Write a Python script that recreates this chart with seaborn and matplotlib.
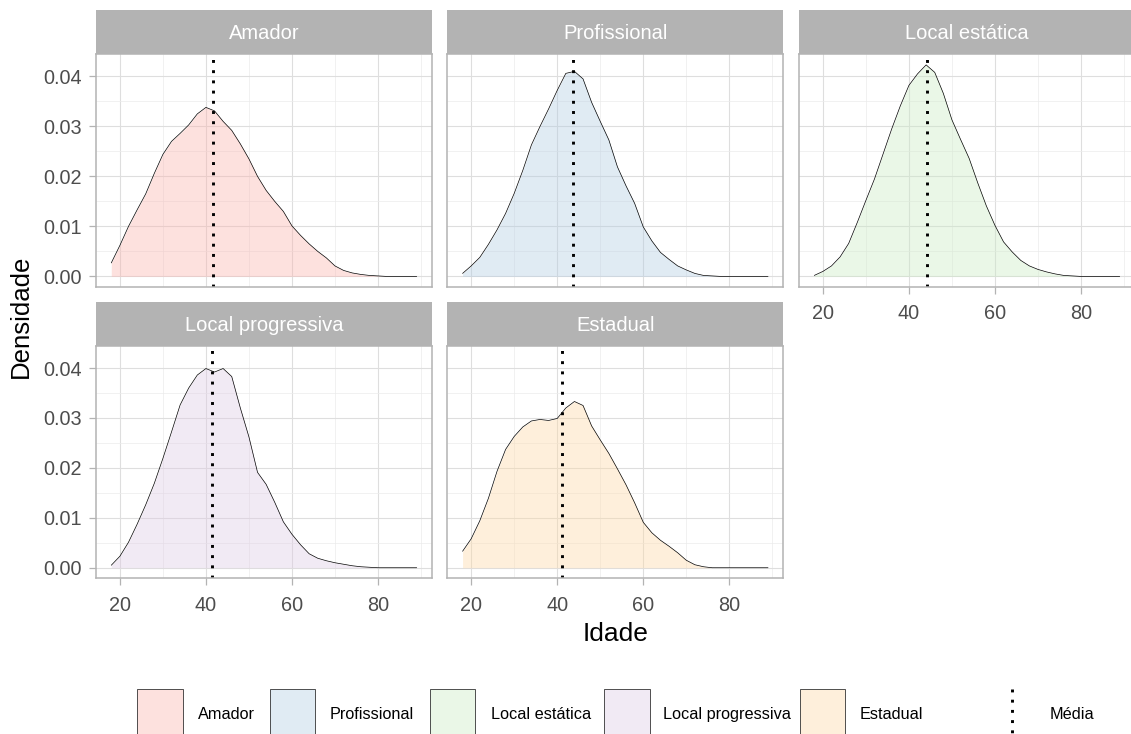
import numpy as np
import pandas as pd
import matplotlib
matplotlib.use("Agg")
import matplotlib.pyplot as plt
import matplotlib.colors as mcolors
from matplotlib.patches import Rectangle
from matplotlib.lines import Line2D
from matplotlib.ticker import FormatStrFormatter
import seaborn as sns

# ---------------------------------------------------------------- data
categorias = ["Amador", "Profissional", "Local estática", "Local progressiva", "Estadual"]

idade = [18, 20, 22, 24, 26, 28, 30, 32, 34, 36, 38, 40, 42, 44, 46, 48, 50, 52,
         54, 56, 58, 60, 62, 64, 66, 68, 70, 72, 74, 76, 78, 80, 82, 84, 86, 88, 89]

dens_amador = [0.0027, 0.0062, 0.0100, 0.0133, 0.0165, 0.0206, 0.0244, 0.0270, 0.0286,
               0.0303, 0.0325, 0.0338, 0.0331, 0.0310, 0.0292, 0.0265, 0.0235, 0.0200,
               0.0172, 0.0150, 0.0130, 0.0101, 0.0082, 0.0065, 0.0050, 0.0037, 0.0021,
               0.0012, 0.0007, 0.0004, 0.0002, 0.0001, 0.0, 0.0, 0.0, 0.0, 0.0]

dens_profissional = [0.0006, 0.0021, 0.0038, 0.0064, 0.0093, 0.0126, 0.0166, 0.0212, 0.0263,
                     0.0300, 0.0335, 0.0372, 0.0406, 0.0410, 0.0395, 0.0348, 0.0310, 0.0273,
                     0.0219, 0.0181, 0.0146, 0.0099, 0.0071, 0.0048, 0.0034, 0.0021, 0.0013,
                     0.0006, 0.0002, 0.0001, 0.0, 0.0, 0.0, 0.0, 0.0, 0.0, 0.0]

dens_local_estatica = [0.0002, 0.0010, 0.0021, 0.0039, 0.0066, 0.0108, 0.0152, 0.0195, 0.0245,
                       0.0295, 0.0341, 0.0382, 0.0405, 0.0423, 0.0408, 0.0366, 0.0313, 0.0274,
                       0.0236, 0.0187, 0.0141, 0.0102, 0.0069, 0.0049, 0.0032, 0.0021, 0.0014,
                       0.0009, 0.0005, 0.0002, 0.0001, 0.0, 0.0, 0.0, 0.0, 0.0, 0.0]

dens_local_progressiva = [0.0005, 0.0023, 0.0051, 0.0087, 0.0126, 0.0169, 0.0219, 0.0272, 0.0326,
                          0.0360, 0.0386, 0.0399, 0.0392, 0.0399, 0.0383, 0.0320, 0.0262, 0.0191,
                          0.0167, 0.0131, 0.0092, 0.0067, 0.0046, 0.0028, 0.0019, 0.0014, 0.0010,
                          0.0007, 0.0004, 0.0002, 0.0001, 0.0, 0.0, 0.0, 0.0, 0.0, 0.0]

dens_estadual = [0.0033, 0.0058, 0.0094, 0.0139, 0.0193, 0.0237, 0.0263, 0.0282, 0.0294,
                 0.0297, 0.0295, 0.0299, 0.0320, 0.0333, 0.0325, 0.0284, 0.0256, 0.0229,
                 0.0198, 0.0166, 0.0130, 0.0091, 0.0070, 0.0055, 0.0043, 0.0030, 0.0015,
                 0.0006, 0.0002, 0.0, 0.0, 0.0, 0.0, 0.0, 0.0, 0.0, 0.0]

medias = [41.7, 43.6, 44.1, 41.4, 41.0]

cores = ["#FBB4AE", "#B3CDE3", "#CCEBC5", "#DECBE4", "#FED9A6"]

densidades = [dens_amador, dens_profissional, dens_local_estatica,
              dens_local_progressiva, dens_estadual]

df = pd.concat(
    [pd.DataFrame({"categoria": c, "Idade": idade, "Densidade": d})
     for c, d in zip(categorias, densidades)],
    ignore_index=True,
)

# ---------------------------------------------------------------- style
sns.set_theme(style="white")
plt.rcParams["font.family"] = ["Liberation Sans", "DejaVu Sans"]

W, H = 1131, 734
fig = plt.figure(figsize=(W / 100, H / 100), dpi=100)

CINZA_BORDA = "#B3B3B3"
CINZA_GRADE = "#DEDEDE"
CINZA_GRADE_MENOR = "#EBEBEB"
CINZA_TEXTO = "#4D4D4D"
FONTE_TICK = 14.3

# panel boxes in pixels (left, right) / (top, bottom)
colunas = [(96.0, 432.0), (447.3, 783.3), (799.0, 1135.0)]
linhas = [(54.3, 287.0), (346.0, 578.3)]
altura_faixa = 44.3


def caixa(l, t, r, b):
    return [l / W, 1 - b / H, (r - l) / W, (b - t) / H]


x_min, x_max = min(idade), max(idade)
x_pad = 0.05 * (x_max - x_min)
y_top = max(max(d) for d in densidades)
y_pad = 0.05 * y_top

for i, (cat, cor, media) in enumerate(zip(categorias, cores, medias)):
    r_i, c_i = divmod(i, 3)
    l, r = colunas[c_i]
    t, b = linhas[r_i]
    ax = fig.add_axes(caixa(l, t, r, b))
    sub = df[df["categoria"] == cat]

    ax.fill_between(sub["Idade"], 0, sub["Densidade"],
                    color=mcolors.to_rgba(cor, 0.4), linewidth=0, zorder=2)
    sns.lineplot(data=sub, x="Idade", y="Densidade", ax=ax,
                 color="black", linewidth=0.5, zorder=3)
    ax.axvline(media, color="black", linewidth=2.1,
               linestyle=(0, (1, 2.5)), zorder=4)

    ax.set_xlim(x_min - x_pad, x_max + x_pad)
    ax.set_ylim(-y_pad, y_top + y_pad)
    ax.set_xticks([20, 40, 60, 80])
    ax.set_xticks([30, 50, 70, 90], minor=True)
    ax.set_yticks([0.0, 0.01, 0.02, 0.03, 0.04])
    ax.set_yticks([0.005, 0.015, 0.025, 0.035], minor=True)
    ax.yaxis.set_major_formatter(FormatStrFormatter("%.2f"))
    ax.set_xlabel("")
    ax.set_ylabel("")
    ax.set_facecolor("white")
    ax.set_axisbelow(True)
    ax.grid(which="major", color=CINZA_GRADE, linewidth=0.8)
    ax.grid(which="minor", color=CINZA_GRADE_MENOR, linewidth=0.5)
    for sp in ax.spines.values():
        sp.set_color(CINZA_BORDA)
        sp.set_linewidth(1.1)
        sp.set_zorder(5)

    mostra_y = c_i == 0
    mostra_x = (r_i == 1) or (c_i == 2)
    ax.tick_params(axis="y", which="major", left=mostra_y, labelleft=mostra_y,
                   length=5.3, width=0.9, color=CINZA_BORDA, pad=5.2,
                   labelsize=FONTE_TICK, labelcolor=CINZA_TEXTO)
    ax.tick_params(axis="x", which="major", bottom=mostra_x, labelbottom=mostra_x,
                   length=5.3, width=0.9, color=CINZA_BORDA, pad=7.2,
                   labelsize=FONTE_TICK, labelcolor=CINZA_TEXTO)
    ax.tick_params(which="minor", left=False, bottom=False)

    # facet strip
    sax = fig.add_axes(caixa(l, t - altura_faixa, r, t))
    sax.set_facecolor(CINZA_BORDA)
    sax.set_xticks([])
    sax.set_yticks([])
    for sp in sax.spines.values():
        sp.set_visible(False)
    sax.text(0.5, 0.47, cat, color="white", ha="center", va="center",
             fontsize=14.5, transform=sax.transAxes)

# axis titles
fig.text(21 / W, 1 - 316.3 / H, "Densidade", rotation=90, ha="center",
         va="center", fontsize=18.5, color="black")
fig.text(615.5 / W, 1 - 641 / H, "Idade", ha="center", va="baseline",
         fontsize=19, color="black")

# legend along the bottom
chave_x = [137.3, 270.0, 430.0, 604.3, 800.0]
rotulo_x = [197.7, 330.0, 491.0, 663.3, 859.3]
chave_topo, chave_alt, chave_larg = 689.3, 48.0, 45.3
base_rotulo = 719.3
for cat, cor, kx, tx in zip(categorias, cores, chave_x, rotulo_x):
    fig.add_artist(Rectangle((kx / W, 1 - (chave_topo + chave_alt) / H),
                             chave_larg / W, chave_alt / H,
                             transform=fig.transFigure,
                             facecolor=mcolors.to_rgba(cor, 0.4),
                             edgecolor="#333333", linewidth=0.6))
    fig.text(tx / W, 1 - base_rotulo / H, cat, ha="left", va="baseline",
             fontsize=11.7, color="black")

fig.add_artist(Line2D([1011.7 / W, 1011.7 / W],
                      [1 - chave_topo / H, 1 - (chave_topo + chave_alt) / H],
                      transform=fig.transFigure, color="black", linewidth=2.1,
                      linestyle=(0, (1, 2.5))))
fig.text(1050 / W, 1 - base_rotulo / H, "Média", ha="left", va="baseline",
         fontsize=11.7, color="black")

fig.savefig("out.png", dpi=100, facecolor="white")
